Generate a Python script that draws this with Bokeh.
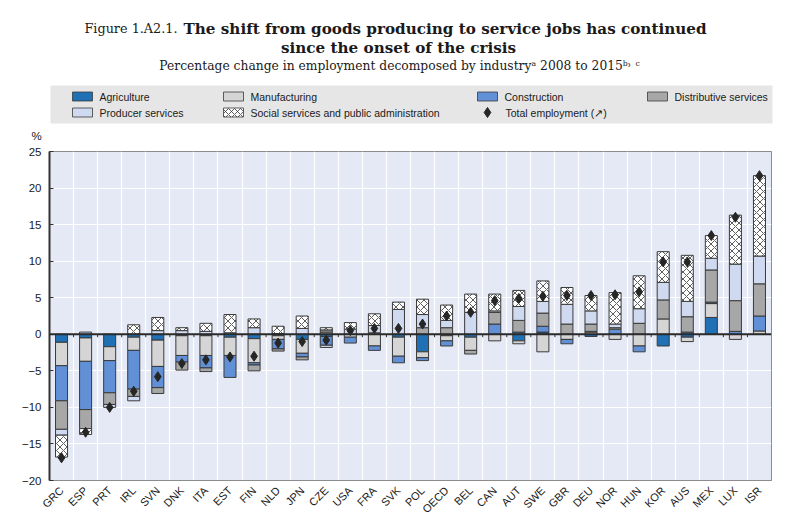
import math
from bokeh.plotting import figure
from bokeh.models import ColumnDataSource, Range1d, FixedTicker, Span, Label
from bokeh.embed import file_html
from bokeh.resources import INLINE

# ---------------- data ----------------
countries = ["GRC", "ESP", "PRT", "IRL", "SVN", "DNK", "ITA", "EST", "FIN", "NLD",
             "JPN", "CZE", "USA", "FRA", "SVK", "POL", "OECD", "BEL", "CAN", "AUT",
             "SWE", "GBR", "DEU", "NOR", "HUN", "KOR", "AUS", "MEX", "LUX", "ISR"]

agriculture   = [-1.1, -0.5, -1.7, -0.4, -0.8, -0.2, -0.2, -0.4, -0.6, -0.2,
                 -0.7, -0.3, 0.0, 0.0, -0.4, -2.4, -0.2, -0.4, 0.0, -0.9,
                 0.3, 0.0, -0.3, 0.0, 0.0, -1.6, -0.4, 2.3, 0.0, 0.0]
manufacturing = [-3.2, -3.2, -1.9, -1.8, -3.6, -2.7, -2.7, -2.5, -3.3, -0.5,
                 -1.9, 0.3, -0.4, -1.6, -2.6, -0.8, -0.7, -1.8, -0.9, -0.4,
                 -2.4, -0.7, 0.3, -0.7, -1.6, 2.1, -0.6, 1.9, -0.7, 0.45]
construction  = [-4.8, -6.6, -4.4, -5.3, -2.9, -0.9, -1.7, -3.0, -0.3, -1.3,
                 -0.5, -1.2, -0.8, -0.6, -0.9, -0.4, -0.7, 0.0, 1.4, 0.3,
                 0.8, -0.6, 0.1, 0.7, -0.8, 0.0, 0.3, 0.2, 0.4, 2.05]
distributive  = [-3.9, -2.6, -1.6, -1.0, -0.8, -1.1, -0.5, 0.0, -0.8, -0.3,
                 -0.4, 0.3, 0.0, 0.2, 0.0, 0.9, 0.9, -0.5, 1.6, 1.6,
                 1.8, 1.4, 1.0, 0.2, 1.5, 2.6, 2.1, 4.4, 4.2, 4.4]
producer      = [-0.8, 0.3, -0.4, -0.6, 0.5, 0.5, 0.4, 0.2, 0.9, 0.1,
                 0.8, -0.3, 0.7, 1.0, 3.4, 1.8, 1.0, 3.0, 0.2, 1.9,
                 1.6, 2.7, 1.8, 0.5, 2.0, 2.4, 2.1, 1.6, 5.0, 3.8]
social        = [-3.0, -0.8, 0.0, 1.3, 1.8, 0.4, 1.1, 2.5, 1.2, 1.0,
                 1.7, 0.3, 0.9, 1.6, 1.0, 2.1, 2.1, 2.5, 2.3, 2.2,
                 2.8, 2.3, 2.1, 4.3, 4.5, 4.2, 6.3, 3.1, 6.7, 11.0]
total         = [-16.9, -13.4, -10.0, -7.8, -5.8, -4.0, -3.5, -3.1, -3.0, -1.2,
                 -1.0, -0.8, 0.5, 0.8, 0.8, 1.4, 2.5, 3.0, 4.6, 4.9,
                 5.2, 5.3, 5.3, 5.4, 5.8, 9.9, 9.9, 13.5, 16.0, 21.7]

series_names = ["Agriculture", "Manufacturing", "Construction", "Distributive services",
                "Producer services", "Social services and public administration"]
series_values = [agriculture, manufacturing, construction, distributive, producer, social]
series_fill = ["#1f70b5", "#d5d5d5", "#6190d6", "#a7a7a7", "#cfdaf1", "#ffffff"]

y_ticks = [-20, -15, -10, -5, 0, 5, 10, 15, 20, 25]
Y_MIN, Y_MAX = -20, 25

FONT_SANS = "Liberation Sans"
FONT_SERIF = "DejaVu Serif"
EDGE = "#3a3a3a"
TXT = "#1a1a1a"
W = 779

# ---------------- header figure (title + legend), pixel coordinates ----------------
HH = 142
h = figure(frame_width=W, frame_height=HH, x_range=Range1d(0, W), y_range=Range1d(HH, 0),
           output_backend="svg", toolbar_location=None,
           x_axis_location=None, y_axis_location=None, min_border=0)
h.grid.visible = False
h.outline_line_color = None
h.background_fill_color = "white"
h.border_fill_color = "white"

h.add_layout(Label(x=177, y=28, text="Figure 1.A2.1.", text_font=FONT_SERIF,
                   text_font_size="12.8px", text_align="right", text_baseline="alphabetic",
                   text_color=TXT))
h.add_layout(Label(x=183, y=28,
                   text="The shift from goods producing to service jobs has continued",
                   text_font=FONT_SERIF, text_font_size="15.2px", text_font_style="bold",
                   text_baseline="alphabetic", text_color=TXT))
h.add_layout(Label(x=398, y=47, text="since the onset of the crisis",
                   text_font=FONT_SERIF, text_font_size="15.2px", text_font_style="bold",
                   text_align="center", text_baseline="alphabetic", text_color=TXT))
h.add_layout(Label(x=399, y=65,
                   text="Percentage change in employment decomposed by industry\u1d43 2008 to 2015\u1d47\u02d2 \u1d9c",
                   text_font=FONT_SERIF, text_font_size="12.3px", text_align="center",
                   text_baseline="alphabetic", text_color=TXT))

# legend box and items
h.quad(left=[50], right=[772], top=[85], bottom=[123], fill_color="#e6e6e6", line_color=None)
leg_x = [82, 233, 487, 657, 82, 233]
leg_y = [96, 96, 96, 96, 112, 112]
for i, name in enumerate(series_names):
    kw = {}
    if i == 5:
        kw = dict(hatch_pattern="x", hatch_color="#333333", hatch_scale=6, hatch_weight=0.8)
    h.rect(x=[leg_x[i]], y=[leg_y[i]], width=20, height=9, fill_color=series_fill[i],
           line_color=EDGE, line_width=0.8, **kw)
    h.add_layout(Label(x=leg_x[i] + 17, y=leg_y[i], text=name, text_font=FONT_SANS,
                       text_font_size="10.5px", text_baseline="middle", text_color=TXT))
h.scatter(x=[487], y=[112], marker="diamond", size=10, fill_color="#262626", line_color="#262626")
h.add_layout(Label(x=505, y=112, text="Total employment (\u2197)", text_font=FONT_SANS,
                   text_font_size="10.5px", text_baseline="middle", text_color=TXT))
h.add_layout(Label(x=36, y=135, text="%", text_font=FONT_SANS, text_font_size="11.5px",
                   text_align="center", text_baseline="middle", text_color=TXT))

# ---------------- main chart ----------------
FL, FT, FW, FH = 49, 9, 722, 329
BR, BB = 8, 33
n = len(countries)
X_MIN, X_MAX = -0.5, n - 0.5

p = figure(frame_width=FW, frame_height=FH,
           x_range=Range1d(X_MIN, X_MAX), y_range=Range1d(Y_MIN, Y_MAX),
           output_backend="svg", toolbar_location=None,
           min_border_left=FL, min_border_right=BR, min_border_top=FT, min_border_bottom=BB)
p.background_fill_color = "#e5e9f5"
p.border_fill_color = "white"
p.outline_line_color = "#8c8c8c"
p.outline_line_width = 1

xs = list(range(n))
pos_base = [0.0] * n
neg_base = [0.0] * n
for k, vals in enumerate(series_values):
    bx, bb, bt = [], [], []
    for i, v in enumerate(vals):
        if v > 0:
            bx.append(xs[i]); bb.append(pos_base[i]); bt.append(pos_base[i] + v)
            pos_base[i] += v
        elif v < 0:
            bx.append(xs[i]); bb.append(neg_base[i]); bt.append(neg_base[i] + v)
            neg_base[i] += v
    src = ColumnDataSource(dict(x=bx, bottom=bb, top=bt))
    kw = {}
    if k == 5:
        kw = dict(hatch_pattern="x", hatch_color="#333333", hatch_scale=7, hatch_weight=0.8)
    p.vbar(x="x", bottom="bottom", top="top", width=0.5, source=src,
           fill_color=series_fill[k], line_color=EDGE, line_width=1, **kw)

p.add_layout(Span(location=0, dimension="width", line_color="#2a2a2a", line_width=2))
bounds = [i + 0.5 for i in range(n - 1)]
p.segment(x0=bounds, y0=[0] * len(bounds), x1=bounds, y1=[-0.4] * len(bounds),
          line_color="#2a2a2a", line_width=1)

p.scatter(x=xs, y=total, marker="diamond", size=10, fill_color="#262626", line_color="#262626")

p.xaxis.ticker = FixedTicker(ticks=xs)
p.xaxis.major_label_overrides = {i: c for i, c in enumerate(countries)}
p.xaxis.major_label_orientation = math.pi / 4
p.xaxis.major_tick_line_color = None
p.xaxis.minor_tick_line_color = None
p.xaxis.axis_line_color = "#8c8c8c"
p.xaxis.major_label_standoff = 2
p.xaxis.major_label_text_font = FONT_SANS
p.xaxis.major_label_text_font_size = "11px"
p.xaxis.major_label_text_color = TXT

p.yaxis.ticker = FixedTicker(ticks=y_ticks)
p.yaxis.axis_line_color = "#333333"
p.yaxis.axis_line_width = 2
p.yaxis.major_tick_in = 4
p.yaxis.major_tick_out = 0
p.yaxis.major_tick_line_color = "#333333"
p.yaxis.minor_tick_line_color = None
p.yaxis.major_label_standoff = 8
p.yaxis.major_label_text_font = FONT_SANS
p.yaxis.major_label_text_font_size = "11.5px"
p.yaxis.major_label_text_color = TXT

p.xgrid.ticker = FixedTicker(ticks=bounds)
p.ygrid.ticker = FixedTicker(ticks=y_ticks)
p.grid.grid_line_color = "white"
p.grid.grid_line_width = 1.2

open("out.html", "w").write(file_html([h, p], INLINE))
